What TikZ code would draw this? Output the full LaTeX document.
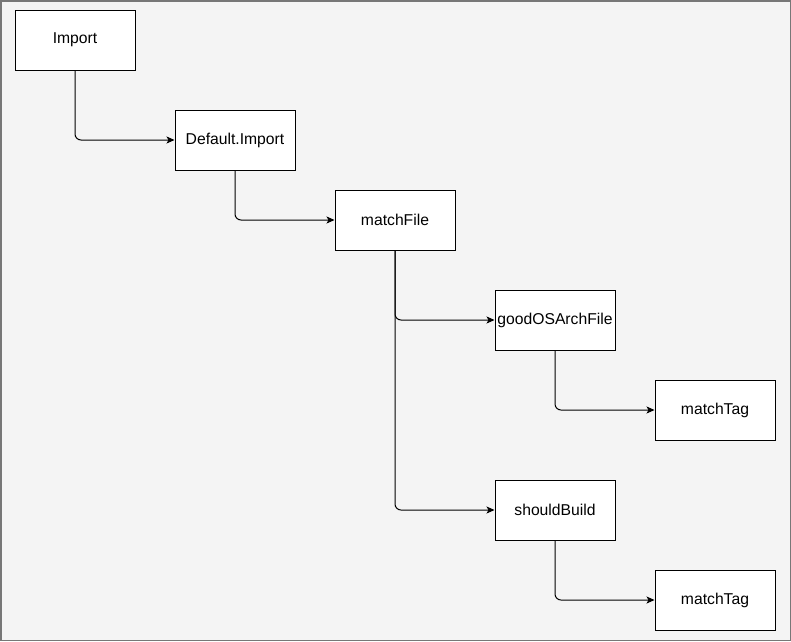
\documentclass[tikz,border=0pt]{standalone}
\usepackage{fontspec}
\setmainfont{Liberation Sans}
\usetikzlibrary{arrows.meta}
\definecolor{bg}{HTML}{F4F4F4}
\definecolor{frame}{HTML}{777777}
\tikzset{
  box/.style={draw=black, fill=white, line width=1pt, minimum width=120pt, minimum height=60pt, inner sep=0pt, font=\fontsize{15.7}{18}\selectfont},
  conn/.style={draw=black, line width=1pt, rounded corners=6pt, -{Stealth[length=8pt,width=7pt,inset=2pt]}}
}
\begin{document}
\begin{tikzpicture}[x=1pt,y=-1pt]
\useasboundingbox (0,0) rectangle (791,641);
\draw[fill=bg, draw=frame, line width=1.5pt] (0.75,0.75) rectangle (790.25,640.25);
\node[box] (imp) at (75,40) {Import};
\node[box] (def) at (235,140) {Default.Import};
\node[box] (mf) at (395,220) {matchFile};
\node[box] (good) at (555,320) {goodOSArchFile};
\node[box] (mt1) at (715,410) {matchTag};
\node[box] (sb) at (555,510) {shouldBuild};
\node[box] (mt2) at (715,600) {matchTag};
\draw[conn] (imp.south) |- (def.west);
\draw[conn] (def.south) |- (mf.west);
\draw[conn] (mf.south) |- (good.west);
\draw[conn] (mf.south) |- (sb.west);
\draw[conn] (good.south) |- (mt1.west);
\draw[conn] (sb.south) |- (mt2.west);
\end{tikzpicture}
\end{document}
